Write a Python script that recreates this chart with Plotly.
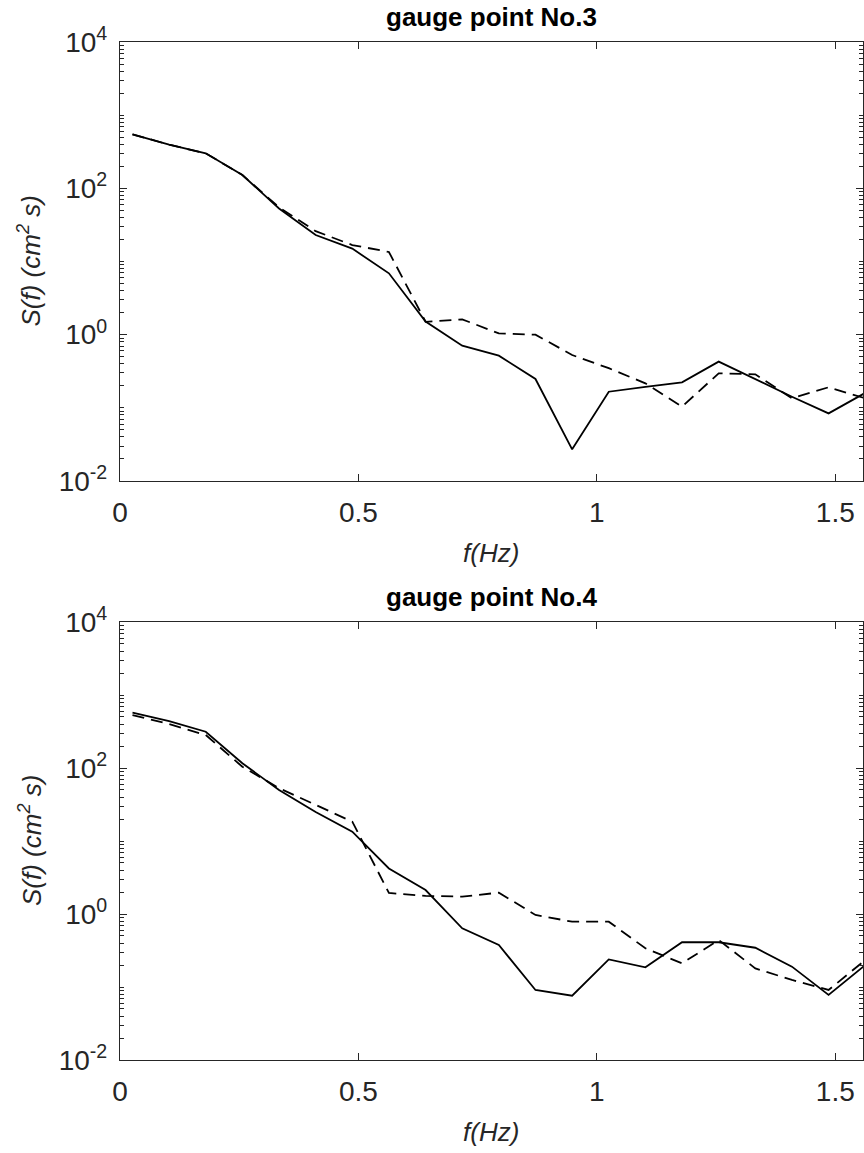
import plotly.graph_objects as go

# ---------------- data ----------------
freq = [0.0262, 0.1030, 0.1798, 0.2566, 0.3335, 0.4103, 0.4871, 0.5639, 0.6408,
        0.7176, 0.7944, 0.8712, 0.9481, 1.0249, 1.1017, 1.1785, 1.2554, 1.3322,
        1.4090, 1.4858, 1.5627]

g3_solid = [548, 395, 301, 152, 53, 23, 15, 6.9, 1.51, 0.706, 0.516, 0.248, 0.0271,
            0.166, 0.193, 0.223, 0.428, 0.246, 0.142, 0.084, 0.16]
g3_dashed = [548, 395, 301, 152, 55, 26, 16.8, 13.5, 1.5, 1.62, 1.04, 1.0, 0.527,
             0.348, 0.216, 0.104, 0.296, 0.287, 0.135, 0.191, 0.135]

g4_solid = [573, 440, 314, 116, 50, 25, 13.4, 4.2, 2.13, 0.637, 0.376, 0.091, 0.076,
            0.239, 0.186, 0.41, 0.41, 0.345, 0.19, 0.078, 0.2]
g4_dashed = [532, 400, 283, 104, 53, 31, 18.4, 1.94, 1.77, 1.73, 1.96, 0.97, 0.785,
             0.785, 0.339, 0.211, 0.44, 0.180, 0.125, 0.091, 0.234]

titles = ["gauge point No.3", "gauge point No.4"]
x_tickvals = [0, 0.5, 1, 1.5]
x_ticktext = ["0", "0.5", "1", "1.5"]
y_tickvals = [1e-2, 1e0, 1e2, 1e4]
y_ticktext = ["10<sup>-2</sup>", "10<sup>0</sup>", "10<sup>2</sup>", "10<sup>4</sup>"]
y_minor = [m * 10 ** e for e in range(-2, 4) for m in range(1, 10)
           if not (m == 1 and e % 2 == 0)]
x_label = "<i>f(Hz)</i>"
y_label = "<i>S(f) (cm<sup>2</sup> s)</i>"

# ---------------- figure ----------------
W, H = 864, 1153
INK = "#262626"
FONT = "Liberation Sans, Arial, sans-serif"

fig = go.Figure()
line_solid = dict(color="black", width=1.8)
line_dash = dict(color="black", width=1.8, dash="12px,7px")

fig.add_trace(go.Scatter(x=freq, y=g3_solid, mode="lines", line=line_solid,
                         xaxis="x", yaxis="y", showlegend=False))
fig.add_trace(go.Scatter(x=freq, y=g3_dashed, mode="lines", line=line_dash,
                         xaxis="x", yaxis="y", showlegend=False))
fig.add_trace(go.Scatter(x=freq, y=g4_solid, mode="lines", line=line_solid,
                         xaxis="x2", yaxis="y2", showlegend=False))
fig.add_trace(go.Scatter(x=freq, y=g4_dashed, mode="lines", line=line_dash,
                         xaxis="x2", yaxis="y2", showlegend=False))

xdom = [120 / W, 863 / W]
top_dom = [1 - 481 / H, 1 - 42 / H]
bot_dom = [1 - 1060 / H, 1 - 622 / H]

tickfont = dict(family=FONT, size=28, color=INK)


def xax(anchor):
    return dict(domain=xdom, range=[0, 1.558], anchor=anchor, automargin=False,
                tickmode="array", tickvals=x_tickvals, ticktext=x_ticktext,
                ticks="inside", ticklen=7, tickwidth=1, tickcolor=INK,
                showline=True, linecolor=INK, linewidth=1.3, mirror="ticks",
                showgrid=False, zeroline=False, tickfont=tickfont,
                ticklabelstandoff=6)


def yax(dom, anchor):
    return dict(type="log", domain=dom, range=[-2, 4], anchor=anchor, automargin=False,
                tickmode="array", tickvals=y_tickvals, ticktext=y_ticktext,
                ticks="inside", ticklen=7, tickwidth=1, tickcolor=INK,
                showline=True, linecolor=INK, linewidth=1.3, mirror="ticks",
                showgrid=False, zeroline=False, tickfont=tickfont,
                ticklabelstandoff=6,
                minor=dict(tickmode="array", tickvals=y_minor, ticks="inside",
                           ticklen=4, tickwidth=1, tickcolor=INK, showgrid=False))


fig.update_layout(
    width=W, height=H,
    margin=dict(l=0, r=0, t=0, b=0, autoexpand=False),
    paper_bgcolor="white", plot_bgcolor="white",
    showlegend=False,
    xaxis=xax("y"), yaxis=yax(top_dom, "x"),
    xaxis2=xax("y2"), yaxis2=yax(bot_dom, "x2"),
)

anns = []
for i, (dom, title) in enumerate(zip([top_dom, bot_dom], titles)):
    top_px = (1 - dom[1]) * H
    bot_px = (1 - dom[0]) * H
    cx = (xdom[0] + xdom[1]) / 2
    anns.append(dict(text="<b>" + title + "</b>", x=cx, y=1 - (top_px - 25) / H,
                     xref="paper", yref="paper", xanchor="center", yanchor="middle",
                     showarrow=False, font=dict(family=FONT, size=26, color="black")))
    anns.append(dict(text=x_label, x=cx, y=1 - (bot_px + 72) / H,
                     xref="paper", yref="paper", xanchor="center", yanchor="middle",
                     showarrow=False, font=dict(family=FONT, size=26, color=INK)))
    anns.append(dict(text=y_label, x=30 / W, y=1 - ((top_px + bot_px) / 2) / H,
                     xref="paper", yref="paper", xanchor="center", yanchor="middle",
                     textangle=-90, showarrow=False,
                     font=dict(family=FONT, size=26, color=INK)))
fig.update_layout(annotations=anns)

fig.write_html("out.html")
